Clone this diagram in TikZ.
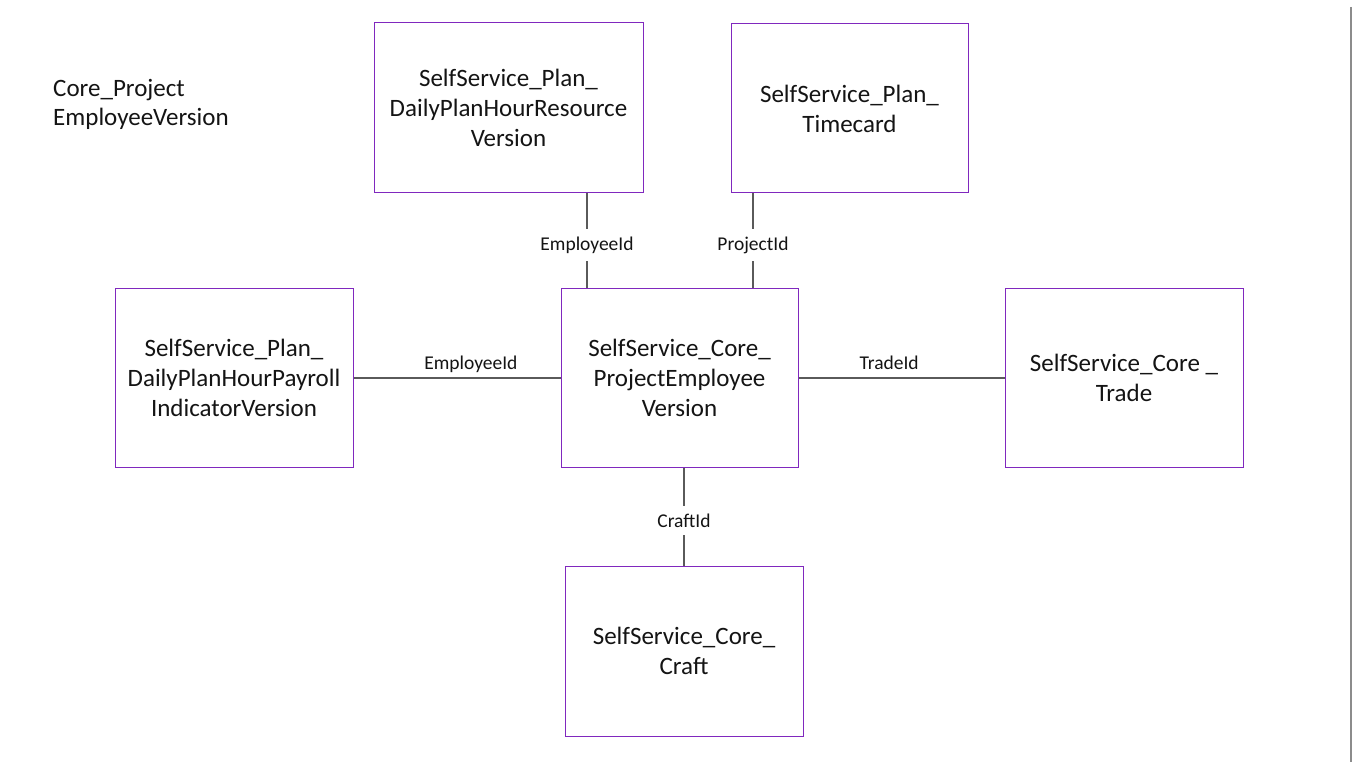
\documentclass[tikz,border=0pt]{standalone}
\usepackage{fontspec}
\setmainfont{Carlito}
\definecolor{boxc}{RGB}{128,40,190}
\definecolor{linec}{RGB}{90,90,90}
\definecolor{txt}{RGB}{20,20,20}
\begin{document}
\begin{tikzpicture}[x=1pt,y=-1pt,
  ent/.style={draw=boxc,line width=1pt,rectangle,align=center,text=txt,
    font=\fontsize{25}{30}\selectfont,inner sep=0pt},
  conn/.style={draw=linec,line width=1.2pt},
  lbl/.style={font=\fontsize{19.5}{22}\selectfont,text=txt,fill=white,inner xsep=2pt,inner ysep=8pt,yshift=-4pt},
  hlbl/.style={font=\fontsize{19.5}{22}\selectfont,text=txt,anchor=base,inner sep=0pt,yshift=9pt}]
\useasboundingbox (0,0) rectangle (1353,762);
\fill[white] (0,0) rectangle (1353,762);
\draw[draw=gray!90,line width=1.2pt] (1351,7) -- (1351,762);
\node[anchor=base west,align=left,text=txt,font=\fontsize{25}{29.5}\selectfont,inner sep=0pt] (title) at (53,126) {Core\_Project\\EmployeeVersion};
\node[ent,minimum width=269,minimum height=170] (res) at (508.5,108) {SelfService\_Plan\_\\DailyPlanHourResource\\Version};
\node[ent,minimum width=237,minimum height=169] (tc) at (849.5,108.5) {SelfService\_Plan\_\\Timecard};
\node[ent,minimum width=238,minimum height=178] (pay) at (234,378) {SelfService\_Plan\_\\DailyPlanHourPayroll\\IndicatorVersion};
\node[ent,minimum width=237,minimum height=178] (pev) at (679.5,378) {SelfService\_Core\_\\ProjectEmployee\\Version};
\node[ent,minimum width=238,minimum height=178] (trade) at (1124,378) {SelfService\_Core \_\\Trade};
\node[ent,minimum width=238,minimum height=170] (craft) at (684,651) {SelfService\_Core\_\\Craft};
\coordinate (xe) at (587,0);
\coordinate (xp) at (753,0);
\coordinate (xc) at (684,0);
\draw[conn] (res.south -| xe) -- node[lbl]{EmployeeId} (pev.north -| xe);
\draw[conn] (tc.south -| xp) -- node[lbl]{ProjectId} (pev.north -| xp);
\draw[conn] (pay.east) -- node[hlbl,pos=0.567]{EmployeeId} (pev.west);
\draw[conn] (pev.east) -- node[hlbl,pos=0.44]{TradeId} (trade.west);
\draw[conn] (pev.south -| xc) -- node[lbl]{CraftId} (craft.north -| xc);
\end{tikzpicture}
\end{document}
